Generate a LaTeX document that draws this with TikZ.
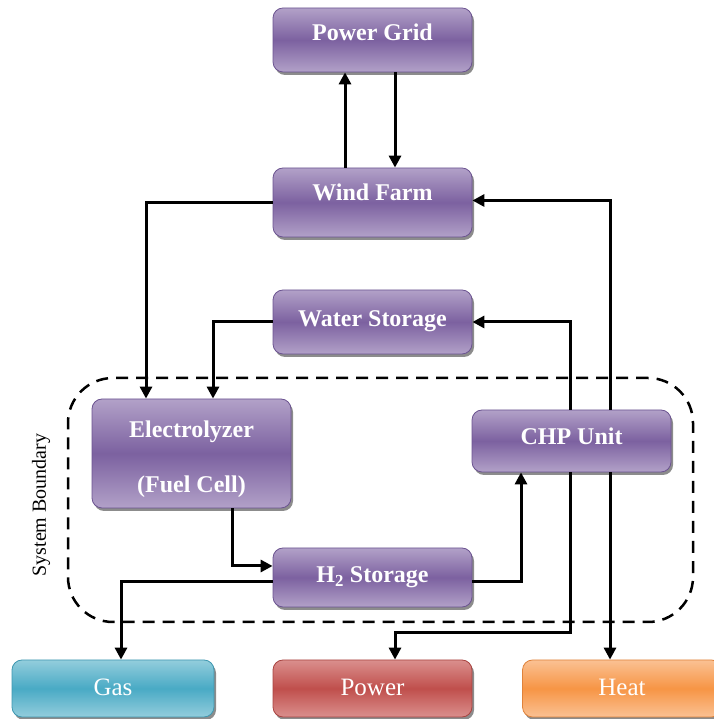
\documentclass[tikz,border=0pt]{standalone}
\usepackage{fontspec}
\setmainfont{Liberation Serif}
\usetikzlibrary{arrows.meta,shadows}
\definecolor{purD}{HTML}{7C61A0}
\definecolor{purL}{HTML}{B2A1C8}
\definecolor{purE}{HTML}{6B5390}
\definecolor{gasD}{HTML}{49AAC5}
\definecolor{gasL}{HTML}{93CDDC}
\definecolor{gasE}{HTML}{3E97B0}
\definecolor{powD}{HTML}{C04F4C}
\definecolor{powL}{HTML}{DA8F8D}
\definecolor{powE}{HTML}{A84340}
\definecolor{heaD}{HTML}{F79545}
\definecolor{heaL}{HTML}{FAC193}
\definecolor{heaE}{HTML}{E0823A}
\begin{document}
\begin{tikzpicture}[x=1pt,y=1pt,
  box/.style={rectangle, rounded corners=10pt, minimum width=199pt, inner sep=0pt,
    draw=#1E, line width=0.8pt, top color=#1L, bottom color=#1L, middle color=#1D,
    text=white, drop shadow={shadow xshift=2pt, shadow yshift=-3pt, fill=black, opacity=0.45}},
  pbox/.style={box=pur, font=\fontsize{24}{29}\selectfont\bfseries},
  obox/.style={box=#1, font=\fontsize{25}{29}\selectfont, minimum height=57pt},
  arr/.style={line width=3pt, -{Triangle[length=12pt,width=12pt]}}]
\useasboundingbox (0,0) rectangle (713,719);
% system boundary
\node[draw, line width=2.5pt, dash pattern=on 12pt off 8pt, rounded corners=45pt,
  minimum width=625pt, minimum height=244pt, inner sep=0pt] (sb) at (380.5,219) {};
\node[rotate=90, font=\fontsize{20}{22}\selectfont] (sbl) at (41,214) {System Boundary};
% boxes
\node[pbox, minimum height=64pt] (pg) at (372.5,679) {\raisebox{15pt}{Power Grid}};
\node[pbox, minimum height=69pt] (wf) at (372.5,516.5) {\raisebox{21pt}{Wind Farm}};
\node[pbox, minimum height=64pt] (ws) at (372.5,397) {\raisebox{7pt}{Water Storage}};
\node[pbox, minimum height=109pt, align=center] (el) at (191.5,265.5) {\rule{0pt}{28pt}Electrolyzer\\[26pt](Fuel Cell)};
\node[pbox, minimum height=62pt] (chp) at (571.5,278) {\raisebox{9pt}{CHP Unit}};
\node[pbox, minimum height=59pt] (h2) at (372.5,141.5) {\raisebox{3pt}{H\textsubscript{2} Storage}};
\node[obox=gas, minimum width=202pt] (gas) at (113,30.5) {\raisebox{2pt}{Gas}};
\node[obox=pow] (power) at (372.5,30.5) {\raisebox{2pt}{Power}};
\node[obox=hea] (heat) at (622,30.5) {\raisebox{2pt}{Heat}};
% connectors
\draw[arr] ([xshift=-27.5pt]wf.north) -- ([xshift=-27.5pt]pg.south);
\draw[arr] ([xshift=22.5pt]pg.south) -- ([xshift=22.5pt]wf.north);
\draw[arr] (wf.west) -| ([xshift=-45.5pt]el.north);
\draw[arr] (ws.west) -| ([xshift=21.5pt]el.north);
\draw[arr] ([xshift=-1.5pt]chp.north) |- (ws.east);
\draw[arr] ([xshift=38.5pt]chp.north) |- ([yshift=2pt]wf.east);
\draw[arr] ([xshift=38.5pt]chp.south) -- ([xshift=38.5pt]chp.south |- heat.north);
\draw[arr] ([xshift=-1.5pt]chp.south) -- ++(0,-160) -| ([xshift=22.5pt]power.north);
\draw[arr] ([xshift=40.5pt]el.south) |- ([yshift=11.5pt]h2.west);
\draw[arr] ([yshift=-4.5pt]h2.west) -| ([xshift=8pt]gas.north);
\draw[arr] ([yshift=-4.5pt]h2.east) -| ([xshift=-50.5pt]chp.south);
\end{tikzpicture}
\end{document}
